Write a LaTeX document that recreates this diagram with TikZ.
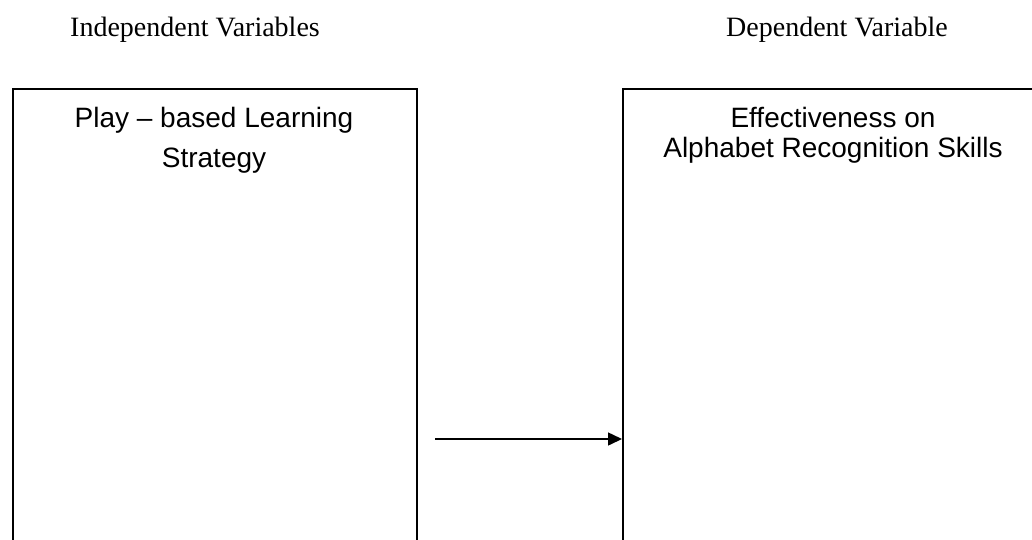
\documentclass[tikz,border=0pt]{standalone}
\usepackage{fontspec}
\setmainfont{Liberation Serif}
\newfontfamily\arialfont{Liberation Sans}
\usetikzlibrary{arrows.meta}
\begin{document}
\begin{tikzpicture}[x=1pt,y=-1pt,
  heading/.style={font=\fontsize{28}{34}\selectfont, anchor=base, inner sep=0pt},
  boxtext/.style={font=\arialfont\fontsize{28}{34}\selectfont, anchor=base, inner sep=0pt},
  varbox/.style={draw=black, line width=1.5pt, anchor=north west, inner sep=0pt, minimum height=600pt},
  link/.style={draw=black, line width=1.5pt, -{Triangle[length=14pt,width=13pt]}}]
\useasboundingbox (0,0) rectangle (1032,539);
\clip (0,0) rectangle (1032,539);
\node[heading] (indep) at (195,36) {Independent Variables};
\node[heading] (dep) at (837,36) {Dependent Variable};
\node[varbox, minimum width=404pt] (lbox) at (12,88) {};
\node[varbox, minimum width=500pt] (rbox) at (622,88) {};
\node[boxtext] (l1) at (214,127) {Play – based Learning};
\node[boxtext] (l2) at (214,167) {Strategy};
\node[boxtext] (r1) at (833,127) {Effectiveness on};
\node[boxtext] (r2) at (833,157) {Alphabet Recognition Skills};
\coordinate (astart) at (435,439);
\draw[link] (astart) -- (astart -| rbox.west);
\end{tikzpicture}
\end{document}
